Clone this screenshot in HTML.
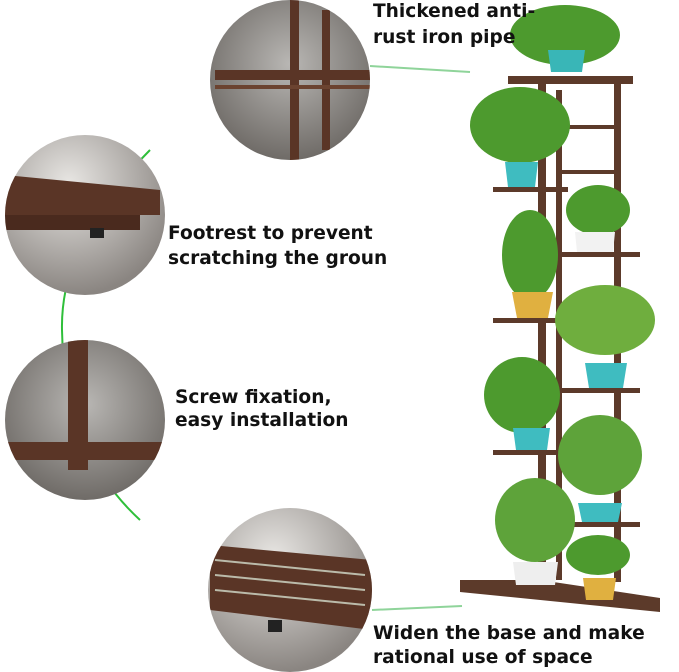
<!DOCTYPE html>
<html><head><style>
body{margin:0;background:#fff;width:679px;height:672px;overflow:hidden;position:relative;font-family:"DejaVu Sans","Liberation Sans",sans-serif}
.t{position:absolute;font-weight:bold;font-size:18.6px;color:#111;line-height:24px;white-space:nowrap}
svg{position:absolute;left:0;top:0}
</style></head><body>
<svg width="679" height="672" viewBox="0 0 679 672">
<defs>
<radialGradient id="g1" cx="50%" cy="40%" r="60%"><stop offset="0" stop-color="#b9b7b4"/><stop offset="1" stop-color="#6f6b67"/></radialGradient>
<radialGradient id="g2" cx="40%" cy="30%" r="70%"><stop offset="0" stop-color="#e8e6e3"/><stop offset="1" stop-color="#8a8581"/></radialGradient>
<clipPath id="c1"><circle cx="290" cy="80" r="80"/></clipPath>
<clipPath id="c2"><circle cx="85" cy="215" r="80"/></clipPath>
<clipPath id="c3"><circle cx="85" cy="420" r="80"/></clipPath>
<clipPath id="c4"><circle cx="290" cy="590" r="82"/></clipPath>
</defs>
<path d="M150,150 Q60,240 62,330 Q64,450 140,520" fill="none" stroke="#2fbf3a" stroke-width="2"/>
<path d="M370,66 L470,72" stroke="#8fd49a" stroke-width="2"/>
<path d="M372,610 L462,606" stroke="#8fd49a" stroke-width="2"/>
<circle cx="290" cy="80" r="80" fill="url(#g1)"/>
<g clip-path="url(#c1)" fill="#5a3526">
<rect x="290" y="0" width="9" height="160"/>
<rect x="322" y="10" width="8" height="140"/>
<rect x="215" y="70" width="155" height="10"/>
<rect x="215" y="85" width="155" height="4" fill="#6b4330"/>
</g>
<circle cx="85" cy="215" r="80" fill="url(#g2)"/>
<g clip-path="url(#c2)">
<path d="M5,175 L160,190 L160,215 L5,215Z" fill="#5a3526"/>
<path d="M5,215 L140,215 L140,230 L5,230Z" fill="#4a2a1e"/>
<rect x="90" y="228" width="14" height="10" fill="#222"/>
</g>
<circle cx="85" cy="420" r="80" fill="url(#g1)"/>
<g clip-path="url(#c3)" fill="#5a3526">
<rect x="68" y="340" width="20" height="130"/>
<rect x="5" y="442" width="160" height="18"/>
</g>
<circle cx="290" cy="590" r="82" fill="url(#g2)"/>
<g clip-path="url(#c4)">
<path d="M210,545 L372,560 L372,630 L210,610Z" fill="#5a3526"/>
<path d="M215,560 L365,575 M215,575 L365,590 M215,590 L365,605" stroke="#bba" stroke-width="2"/>
<rect x="268" y="620" width="14" height="12" fill="#222"/>
</g>
<g fill="#5c3a2a">
<rect x="538" y="80" width="8" height="518"/>
<rect x="614" y="82" width="7" height="500"/>
<rect x="556" y="90" width="6" height="490"/>
<rect x="508" y="76" width="125" height="8"/>
<rect x="493" y="187" width="75" height="5"/><rect x="493" y="318" width="75" height="5"/><rect x="493" y="450" width="75" height="5"/>
<rect x="545" y="252" width="95" height="5"/><rect x="545" y="388" width="95" height="5"/><rect x="545" y="522" width="95" height="5"/>
<rect x="560" y="125" width="58" height="4"/><rect x="560" y="170" width="58" height="4"/>
<path d="M460,580 L540,580 L660,598 L660,612 L460,592Z"/>
</g>
<g fill="#4d9a2e">
<ellipse cx="565" cy="35" rx="55" ry="30"/>
<ellipse cx="520" cy="125" rx="50" ry="38"/>
<ellipse cx="598" cy="210" rx="32" ry="25"/>
<ellipse cx="530" cy="255" rx="28" ry="45"/>
<ellipse cx="605" cy="320" rx="50" ry="35" fill="#6fae3e"/>
<ellipse cx="522" cy="395" rx="38" ry="38"/>
<ellipse cx="600" cy="455" rx="42" ry="40" fill="#5ea33a"/>
<ellipse cx="535" cy="520" rx="40" ry="42" fill="#5ea33a"/>
<ellipse cx="598" cy="555" rx="32" ry="20"/>
</g>
<g>
<path d="M548,50 L585,50 L582,72 L551,72Z" fill="#39b6b7"/>
<path d="M505,162 L538,162 L535,187 L508,187Z" fill="#3fbcc0"/>
<path d="M575,232 L615,232 L613,252 L577,252Z" fill="#f2f2f2"/>
<path d="M512,292 L553,292 L548,318 L517,318Z" fill="#e0b040"/>
<path d="M585,363 L627,363 L623,388 L589,388Z" fill="#3fbcc0"/>
<path d="M513,428 L550,428 L547,450 L516,450Z" fill="#3fbcc0"/>
<path d="M578,503 L622,503 L618,522 L582,522Z" fill="#3fbcc0"/>
<path d="M513,562 L558,562 L555,585 L516,585Z" fill="#eee"/>
<path d="M583,578 L616,578 L613,600 L586,600Z" fill="#e0b040"/>
</g>
</svg>
<div class="t" style="left:373px;top:0px">Thickened anti-</div>
<div class="t" style="left:373px;top:26px">rust iron pipe</div>
<div class="t" style="left:168px;top:222px">Footrest to prevent</div>
<div class="t" style="left:168px;top:247px">scratching the groun</div>
<div class="t" style="left:175px;top:386px">Screw fixation,</div>
<div class="t" style="left:175px;top:409px">easy installation</div>
<div class="t" style="left:373px;top:622px">Widen the base and make</div>
<div class="t" style="left:373px;top:646px">rational use of space</div>
</body></html>
